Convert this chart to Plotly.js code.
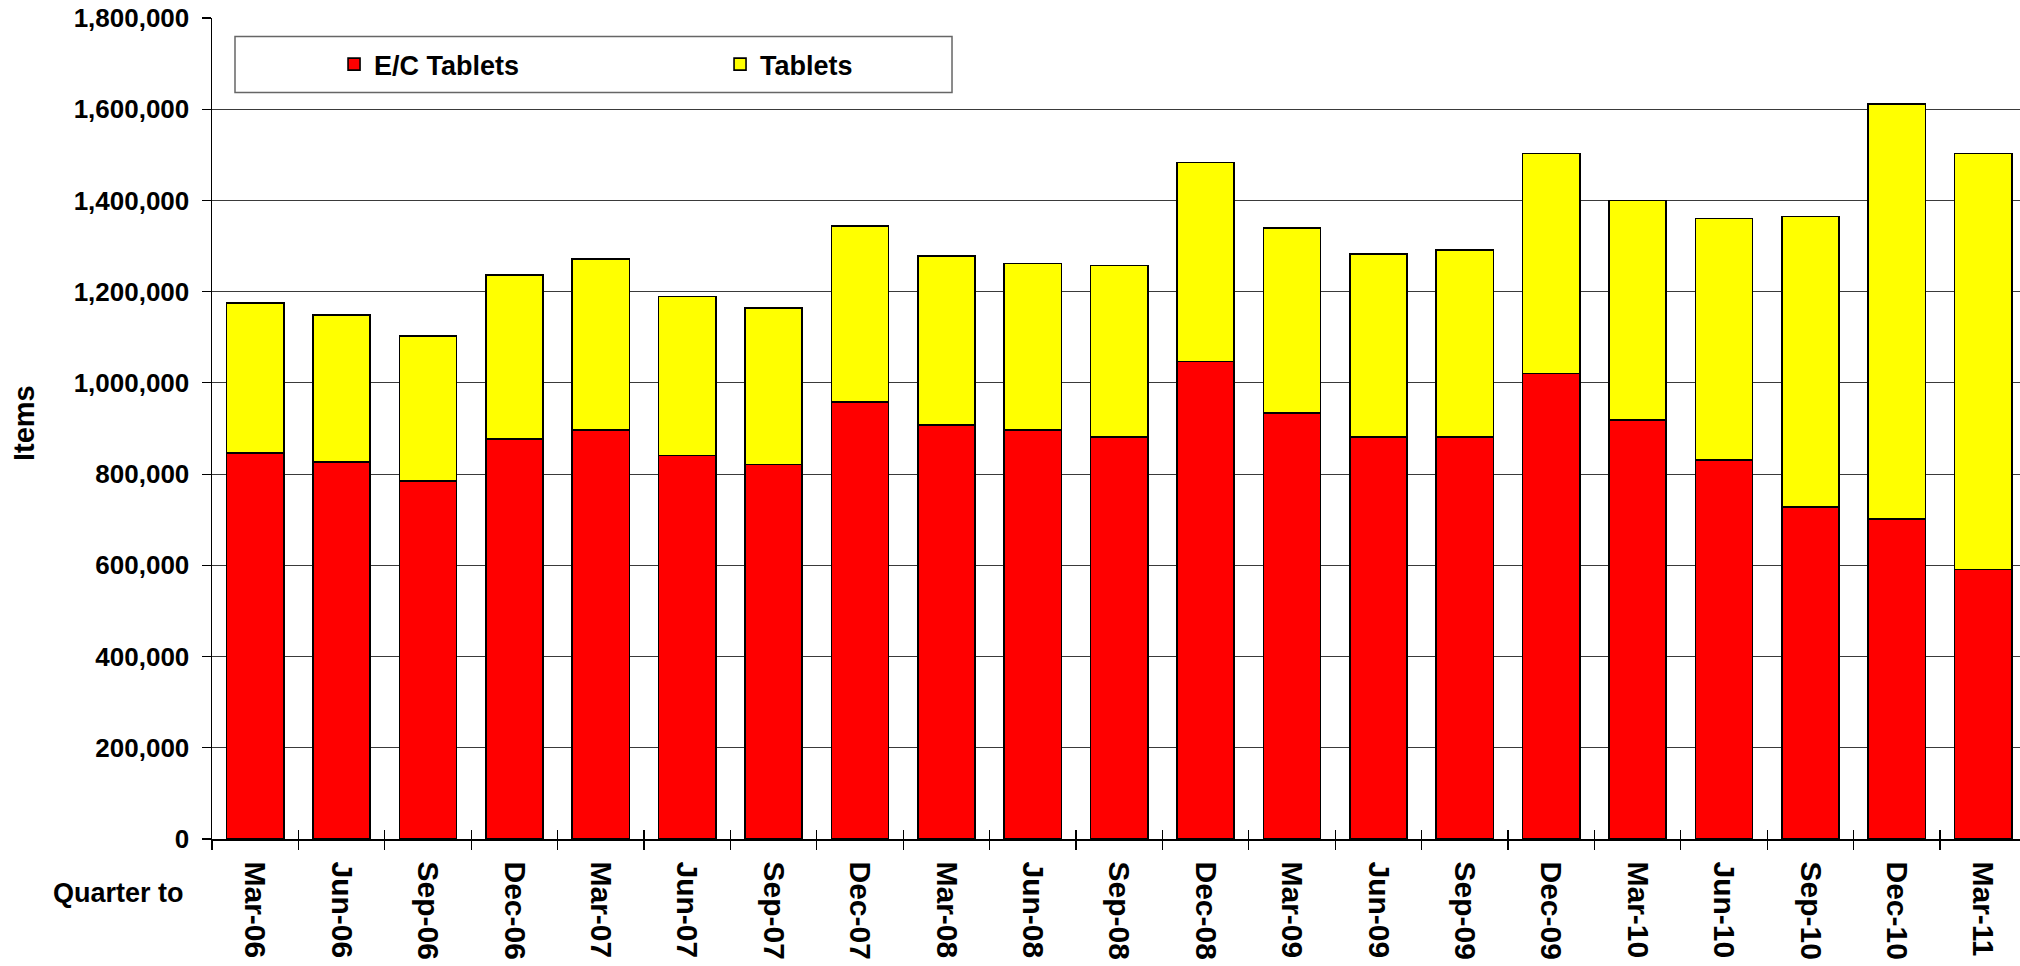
<!DOCTYPE html>
<html>
<head>
<meta charset="utf-8">
<script src="https://cdn.plot.ly/plotly-3.0.1.min.js"></script>
<style>
  html, body { margin: 0; padding: 0; overflow: hidden; background: #fff; }
  #chart { width: 2020px; height: 966px; }
</style>
</head>
<body>
<div id="chart"></div>
<script>
// Quarter labels
const quarters = ['Mar-06','Jun-06','Sep-06','Dec-06','Mar-07','Jun-07','Sep-07','Dec-07',
  'Mar-08','Jun-08','Sep-08','Dec-08','Mar-09','Jun-09','Sep-09','Dec-09',
  'Mar-10','Jun-10','Sep-10','Dec-10','Mar-11'];

// E/C Tablets items (bottom segment)
const ecTablets = [846000, 826000, 785000, 877000, 897000, 841000, 821000, 958000,
  908000, 897000, 882000, 1047000, 934000, 882000, 882000, 1021000,
  918000, 831000, 728000, 702000, 591000];

// Tablets items (top segment)
const tablets = [329000, 323000, 318000, 360000, 375000, 348000, 343000, 386000,
  370000, 365000, 375000, 436000, 405000, 401000, 410000, 482000,
  482000, 529000, 637000, 909000, 912000];

const yTicks = [0, 200000, 400000, 600000, 800000, 1000000, 1200000, 1400000, 1600000, 1800000];

const seriesNames = ['E/C Tablets', 'Tablets'];
const xTitle = 'Quarter to';
const yTitle = 'Items';

const FONT = 'Liberation Sans, Arial, Helvetica, sans-serif';

const traces = [
  {
    type: 'bar', name: seriesNames[0], x: quarters, y: ecTablets,
    marker: { color: '#ff0000', line: { color: '#000000', width: 1.6 } },
    hoverinfo: 'x+y+name'
  },
  {
    type: 'bar', name: seriesNames[1], x: quarters, y: tablets,
    marker: { color: '#ffff00', line: { color: '#000000', width: 1.6 } },
    hoverinfo: 'x+y+name'
  },
  // invisible helper to drive the overlay axis carrying the inward half of the category ticks
  {
    type: 'scatter', mode: 'none', x: quarters.map((_, i) => i), y: ecTablets,
    xaxis: 'x2', yaxis: 'y', showlegend: false, hoverinfo: 'skip'
  }
];

const xEnd = quarters.length - 0.5 - 6.4 / 86.4;

const layout = {
  width: 2020, height: 966,
  margin: { l: 212, r: 0, t: 18, b: 127 },
  paper_bgcolor: '#ffffff', plot_bgcolor: '#ffffff',
  barmode: 'stack', bargap: 0.34,
  font: { family: FONT, color: '#000000', size: 26, weight: 700 },
  showlegend: true,
  legend: {
    orientation: 'h', x: 0.0675, xanchor: 'left', y: 0.9433, yanchor: 'middle',
    bgcolor: 'rgba(0,0,0,0)', borderwidth: 0,
    entrywidth: 341, entrywidthmode: 'pixels',
    font: { family: FONT, size: 27, color: '#000000', weight: 700 },
    traceorder: 'normal'
  },
  xaxis: {
    type: 'category', categoryorder: 'array', categoryarray: quarters,
    range: [-0.5, xEnd], autorange: false,
    showline: true, linecolor: '#000000', linewidth: 1.5,
    showgrid: false, zeroline: false,
    ticks: 'outside', ticklen: 9, tickwidth: 1.2, tickcolor: '#000000',
    tickson: 'boundaries',
    tickangle: 90, ticklabelstandoff: 15,
    tickfont: { family: FONT, size: 30, color: '#000000', weight: 700 },
    automargin: false, fixedrange: true
  },
  xaxis2: {
    overlaying: 'x', anchor: 'y', side: 'bottom',
    range: [-0.5, xEnd], autorange: false,
    tickmode: 'array', tickvals: quarters.map((_, i) => i - 0.5),
    ticks: 'inside', ticklen: 9, tickwidth: 1.2, tickcolor: '#000000',
    showticklabels: false, showgrid: false, zeroline: false, showline: false,
    automargin: false, fixedrange: true
  },
  yaxis: {
    range: [0, 1800000], autorange: false,
    tickmode: 'array', tickvals: yTicks, tickformat: ',d',
    showline: true, linecolor: '#000000', linewidth: 1.5,
    showgrid: true, gridcolor: '#3a3a3a', gridwidth: 1,
    zeroline: false,
    ticks: 'outside', ticklen: 9, tickwidth: 1.2, tickcolor: '#000000',
    ticklabelstandoff: 7,
    tickfont: { family: FONT, size: 26, color: '#000000', weight: 700 },
    automargin: false, fixedrange: true
  },
  shapes: [
    {
      type: 'rect', xref: 'paper', yref: 'paper',
      x0: 0.01272, x1: 0.4093, y0: 0.9092, y1: 0.9775,
      line: { color: '#666666', width: 1.5 }, fillcolor: '#ffffff', layer: 'above'
    }
  ],
  annotations: [
    {
      text: xTitle, xref: 'paper', yref: 'paper', x: -0.0517, y: -0.0654,
      xanchor: 'center', yanchor: 'middle', showarrow: false,
      font: { family: FONT, size: 27, color: '#000000', weight: 700 }
    },
    {
      text: yTitle, xref: 'paper', yref: 'paper', x: -0.1040, y: 0.5066,
      xanchor: 'center', yanchor: 'middle', showarrow: false, textangle: -90,
      font: { family: FONT, size: 29, color: '#000000', weight: 700 }
    }
  ]
};

Plotly.newPlot('chart', traces, layout, { displayModeBar: false, staticPlot: true });
</script>
</body>
</html>
